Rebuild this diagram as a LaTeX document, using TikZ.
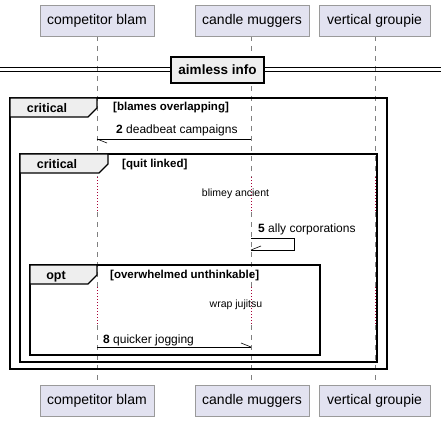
\documentclass[tikz,border=0pt]{standalone}
\usepackage{fontspec}
\setmainfont{Liberation Sans}
\usetikzlibrary{calc}
\usetikzlibrary{math}

\definecolor{partfill}{HTML}{E2E2F0}
\definecolor{partline}{HTML}{9A9A9A}
\definecolor{tabfill}{HTML}{EEEEEE}
\definecolor{delaydot}{HTML}{A80036}

\tikzset{
  partbox/.style={draw=partline, fill=partfill, inner sep=0pt,
    minimum height=31pt, font=\fontsize{14}{16}\selectfont},
  lifeline/.style={draw=gray, dash pattern=on 5pt off 5pt, line width=0.4pt},
  delayline/.style={draw=delaydot, dash pattern=on 1pt off 2pt, line width=0.5pt},
  frame/.style={line width=1.4pt},
  tab/.style={fill=tabfill, line width=1.4pt},
  tablabel/.style={font=\bfseries\fontsize{12.5}{14}\selectfont, inner sep=0pt, anchor=base},
  guard/.style={font=\bfseries\fontsize{11.5}{13}\selectfont, inner sep=0pt, anchor=base west},
  msg/.style={line width=0.6pt},
  msglabel/.style={font=\fontsize{12}{14}\selectfont, inner sep=0pt, anchor=base west},
  delaytext/.style={font=\fontsize{10.5}{12}\selectfont, inner sep=0pt},
}

\begin{document}
\begin{tikzpicture}[x=1pt,y=-1pt]

  \tikzmath{
    \xcb = 97;   % lifeline competitor blam
    \xcm = 251;  % lifeline candle muggers
    \xvg = 375;  % lifeline vertical groupie
    \barb = 10;  % length of half arrow
  }

  \useasboundingbox (0,0) rectangle (441,422);

  % heads of the lifelines
  \coordinate (llcb) at (\xcb,36);
  \coordinate (llcm) at (\xcm,36);
  \coordinate (llvg) at (\xvg,36);

  % rows where the lifelines turn into delays
  \coordinate (delayAtop) at (0,177);
  \coordinate (delayAbot) at (0,212);
  \coordinate (delayBtop) at (0,287);
  \coordinate (delayBbot) at (0,325);
  \coordinate (lifeend) at (0,385);

  % lifelines
  \foreach \p in {cb, cm, vg} {
    \draw[lifeline] (ll\p) -- (ll\p |- delayAtop);
    \draw[delayline] (ll\p |- delayAtop) -- (ll\p |- delayAbot);
    \draw[lifeline] (ll\p |- delayAbot) -- (ll\p |- delayBtop);
    \draw[delayline] (ll\p |- delayBtop) -- (ll\p |- delayBbot);
    \draw[lifeline] (ll\p |- delayBbot) -- (ll\p |- lifeend);
  }

  % participants, top and bottom
  \node[partbox, minimum width=114pt] (topcb) at (\xcb,20.5) {competitor blam};
  \node[partbox, minimum width=114pt] (topcm) at (252,20.5) {candle muggers};
  \node[partbox, minimum width=111pt] (topvg) at (374.5,20.5) {vertical groupie};
  \node[partbox, minimum width=114pt] (botcb) at (\xcb,401) {competitor blam};
  \node[partbox, minimum width=114pt] (botcm) at (252,401) {candle muggers};
  \node[partbox, minimum width=111pt] (botvg) at (374.5,401) {vertical groupie};

  % divider
  \draw[line width=1pt] (0,68) -- (441,68);
  \draw[line width=1pt] (0,72) -- (441,72);
  \node[draw, fill=tabfill, line width=1.4pt, minimum width=93pt, minimum height=26pt,
    inner sep=0pt, font=\bfseries\fontsize{13.5}{15}\selectfont] (divider) at (217.5,70) {aimless info};

  % outer critical
  \draw[frame] (10,98) rectangle (387,369);
  \draw[tab] (10,98) -- (97,98) -- (97,108) -- (88,117) -- (10,117) -- cycle;
  \node[tablabel] (critA) at (47,112.5) {critical};
  \node[guard] (guardA) at (113,111) {[blames overlapping]};

  % message 2
  \coordinate (m2from) at (\xcm,139);
  \coordinate (m2to) at (\xcb,139);
  \draw[msg] (m2from) -- (m2to);
  \draw[msg] (m2to) -- ++(\barb,4);
  \node[msglabel] (m2label) at (116,134) {\textbf{2} deadbeat campaigns};

  % inner critical
  \draw[frame] (20,154) rectangle (377,362);
  \draw[tab] (20,154) -- (108,154) -- (108,164) -- (99,173) -- (20,173) -- cycle;
  \node[tablabel] (critB) at (57,168.5) {critical};
  \node[guard] (guardB) at (122,167.5) {[quit linked]};

  % delay
  \node[delaytext] (delayA) at (235.5,194) {blimey ancient};

  % message 5, self message
  \coordinate (m5from) at (\xcm,238);
  \coordinate (m5to) at (\xcm,250);
  \draw[msg] (m5from) -- (294,238) -- (294,250) -- (m5to);
  \draw[msg] (m5to) -- ++(\barb,-4);
  \node[msglabel] (m5label) at (258,232) {\textbf{5} ally corporations};

  % opt
  \draw[frame] (30,265) rectangle (320,355);
  \draw[tab] (30,265) -- (97,265) -- (97,275) -- (88,284) -- (30,284) -- cycle;
  \node[tablabel] (optA) at (56,279) {opt};
  \node[guard] (guardC) at (110,278.5) {[overwhelmed unthinkable]};

  % delay
  \node[delaytext] (delayB) at (236,305) {wrap jujitsu};

  % message 8
  \coordinate (m8from) at (\xcb,347);
  \coordinate (m8to) at (\xcm,347);
  \draw[msg] (m8from) -- (m8to);
  \draw[msg] (m8to) -- ++(-\barb,-4);
  \node[msglabel] (m8label) at (103,343) {\textbf{8} quicker jogging};

\end{tikzpicture}
\end{document}
